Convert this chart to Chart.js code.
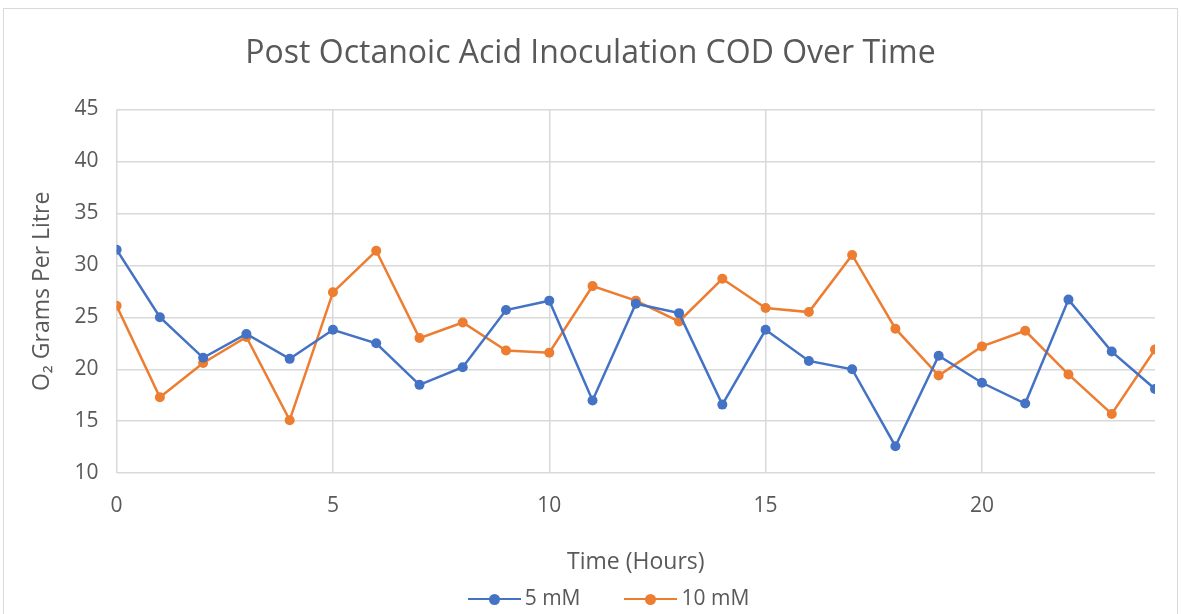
<!DOCTYPE html>
<html>
<head>
<meta charset="utf-8">
<script src="https://cdn.jsdelivr.net/npm/chart.js@4/dist/chart.umd.min.js"></script>
<style>
    body { margin: 0; background: #fff; }
    #frame {
        position: absolute; left: 3px; top: 8px; width: 1175px; height: 620px;
        border: 1px solid #d9d9d9; box-sizing: border-box;
    }
    #wrap { position: absolute; left: 0; top: 0; width: 1181px; height: 614px; }
    #legend {
        position: absolute; left: 18px; top: 584px; width: 1181px; text-align: center;
        font-family: "Open Sans", sans-serif; font-size: 21px; line-height: 26px; color: #595959;
    }
    .item { display: inline-block; margin: 0 22px; }
    .mark { display: inline-block; position: relative; width: 53px; height: 11px; vertical-align: middle; margin-right: 4px; }
    .mark .ln { position: absolute; left: 0; right: 0; top: 4px; height: 2.5px; }
    .mark .dot { position: absolute; left: 21px; top: 0; width: 11px; height: 11px; border-radius: 50%; }
</style>
</head>
<body>
<div id="frame"></div>
<div id="wrap"><canvas id="myChart"></canvas></div>
<div id="legend"></div>
<script>
// ===============================
// Datos
// ===============================
const hours = [0, 1, 2, 3, 4, 5, 6, 7, 8, 9, 10, 11, 12, 13, 14, 15, 16, 17, 18, 19, 20, 21, 22, 23, 24];
const cod5mM = [31.5, 25.0, 21.1, 23.4, 21.0, 23.8, 22.5, 18.5, 20.2, 25.7, 26.6, 17.0, 26.3,
                25.4, 16.6, 23.8, 20.8, 20.0, 12.6, 21.3, 18.7, 16.7, 26.7, 21.7, 18.1];
const cod10mM = [26.1, 17.3, 20.6, 23.1, 15.1, 27.4, 31.4, 23.0, 24.5, 21.8, 21.6, 28.0, 26.6,
                 24.6, 28.7, 25.9, 25.5, 31.0, 23.9, 19.4, 22.2, 23.7, 19.5, 15.7, 21.9];
const seriesNames = ['5 mM', '10 mM'];
const seriesColors = ['#4472C4', '#ED7D31'];

const textColor = '#595959';
const gridColor = '#d9d9d9';
const fontFamily = '"Open Sans", sans-serif';

function toPoints(values) {
    return hours.map((h, i) => ({ x: h, y: values[i] }));
}

function makeDataset(label, values, color) {
    return {
        label: label,
        data: toPoints(values),
        borderColor: color,
        backgroundColor: color,
        borderWidth: 2.5,
        pointRadius: 5,
        pointHoverRadius: 5,
        pointBorderWidth: 0,
        tension: 0
    };
}

// ===============================
// Leyenda en HTML (línea con punto)
// ===============================
function buildLegend() {
    const legend = document.getElementById('legend');
    seriesNames.forEach((name, i) => {
        const item = document.createElement('span');
        item.className = 'item';
        item.innerHTML =
            `<span class="mark"><span class="ln" style="background:${seriesColors[i]}"></span>` +
            `<span class="dot" style="background:${seriesColors[i]}"></span></span>${name}`;
        legend.appendChild(item);
    });
}

function renderChart() {
    const ctx = document.getElementById('myChart').getContext('2d');

    new Chart(ctx, {
        type: 'line',
        data: {
            datasets: [
                makeDataset(seriesNames[0], cod5mM, seriesColors[0]),
                makeDataset(seriesNames[1], cod10mM, seriesColors[1])
            ]
        },
        options: {
            responsive: true,
            maintainAspectRatio: false,
            animation: false,
            layout: { padding: { left: 26, right: 26, top: 0, bottom: 38 } },
            plugins: {
                legend: { display: false },
                tooltip: { enabled: false },
                title: {
                    display: true,
                    text: 'Post Octanoic Acid Inoculation COD Over Time',
                    color: textColor,
                    font: { family: fontFamily, size: 32, weight: 'normal' },
                    padding: { top: 35, bottom: 36 }
                }
            },
            scales: {
                x: {
                    type: 'linear',
                    min: 0,
                    max: 24,
                    ticks: {
                        stepSize: 5,
                        includeBounds: false,
                        color: textColor,
                        font: { family: fontFamily, size: 21 },
                        padding: 20
                    },
                    grid: { color: gridColor, lineWidth: 1.5, drawTicks: false },
                    border: { display: false },
                    title: {
                        display: true,
                        text: 'Time (Hours)',
                        color: textColor,
                        font: { family: fontFamily, size: 23 },
                        padding: { top: 10, bottom: 0 }
                    }
                },
                y: {
                    min: 10,
                    max: 45,
                    ticks: {
                        stepSize: 5,
                        color: textColor,
                        font: { family: fontFamily, size: 21 },
                        padding: 18
                    },
                    grid: { color: gridColor, lineWidth: 1.5, drawTicks: false },
                    border: { display: false },
                    title: {
                        display: true,
                        text: 'O₂ Grams Per Litre',
                        color: textColor,
                        font: { family: fontFamily, size: 23 },
                        padding: { top: 3, bottom: 0 }
                    }
                }
            }
        }
    });
}

document.addEventListener('DOMContentLoaded', () => {
    buildLegend();
    renderChart();
});
</script>
</body>
</html>
